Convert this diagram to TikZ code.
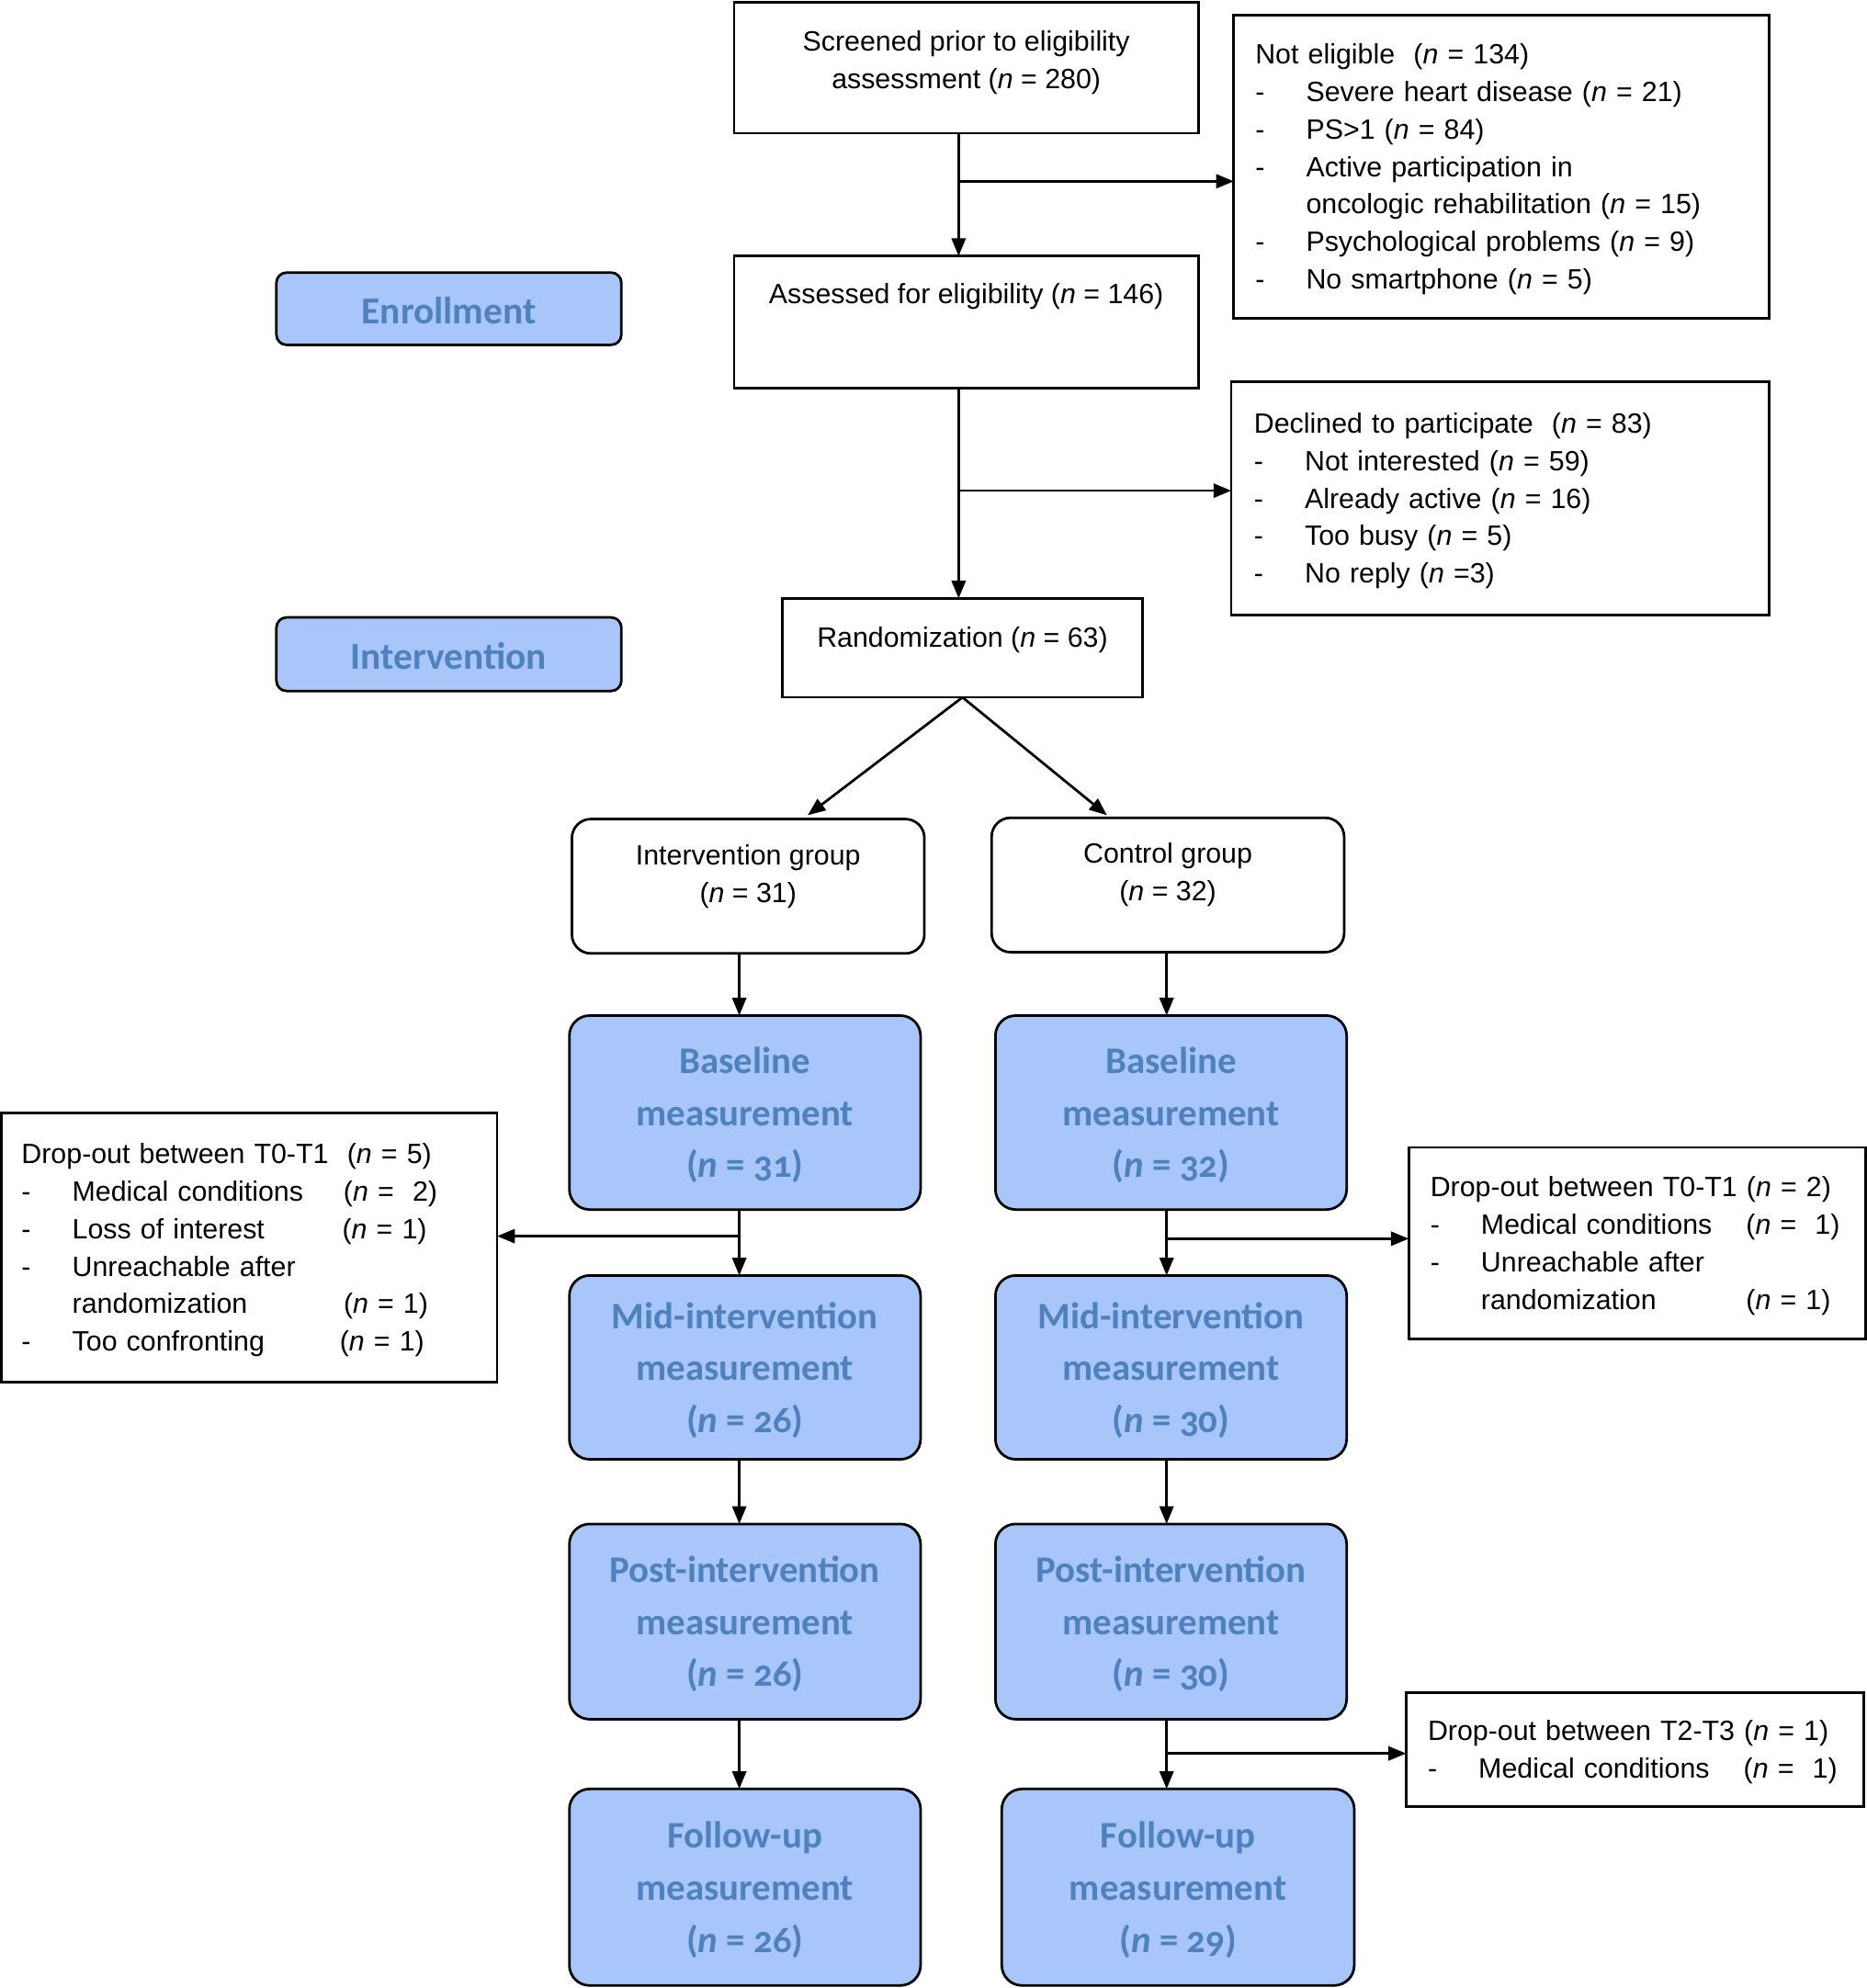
\documentclass[tikz,border=0pt]{standalone}
\usepackage{fontspec}
\setmainfont{Liberation Sans}
\newfontfamily\bluefont{Carlito}[Numbers=OldStyle]
\usetikzlibrary{arrows.meta,calc}
\definecolor{boxblue}{RGB}{168,198,250}
\definecolor{txtblue}{RGB}{79,129,189}
\newcommand\itm{\makebox[40pt][l]{-}}
\newcommand\nn{\textit{n}}
\newcommand\tstrut{\rule{0pt}{20pt}}
\newcommand\bstrut{\rule{0pt}{25pt}}
\begin{document}
\begin{tikzpicture}[x=1pt,y=-1pt,
 every node/.style={inner sep=0pt, outer sep=0pt},
 plain/.style={draw, line width=2pt, anchor=north west},
 txt/.style={align=center, font=\fontsize{22}{29.6}\selectfont},
 listbox/.style={plain, align=left, inner xsep=17pt, font=\fontsize{22}{29.6}\selectfont},
 phase/.style={draw, line width=2pt, fill=boxblue, rounded corners=8pt, text=txtblue,
   minimum width=272pt, font=\bluefont\bfseries\fontsize{30}{36}\selectfont},
 grp/.style={draw, line width=2pt, rounded corners=15pt, anchor=north west,
   minimum width=278pt, minimum height=106pt},
 meas/.style={draw, line width=2pt, fill=boxblue, rounded corners=16pt, text=txtblue,
   anchor=north west, align=center, minimum width=277pt,
   font=\bluefont\bfseries\fontsize{29.6}{41}\selectfont},
 arr/.style={line width=2pt, -{Triangle[length=14pt,width=11pt]}}]
\useasboundingbox (0,0) rectangle (1472,1568);

% enrollment part
\node[plain, minimum width=366pt, minimum height=103pt] (scr) at (579,2) {};
\node[txt] (scrT) at (762,49.5) {Screened prior to eligibility\\assessment (\nn{} = 280)};

\node[listbox, minimum width=422pt, minimum height=239pt, text width=388pt] (notel) at (973,12)
 {\tstrut Not eligible\ \ (\nn{} = 134)\\
  \itm Severe heart disease (\nn{} = 21)\\
  \itm PS>1 (\nn{} = 84)\\
  \itm Active participation in\\
  \hspace*{40pt}oncologic rehabilitation (\nn{} = 15)\\
  \itm Psychological problems (\nn{} = 9)\\
  \itm No smartphone (\nn{} = 5)};

\node[plain, minimum width=366pt, minimum height=104pt] (ass) at (579,202) {};
\node[txt] (assT) at (762,234) {Assessed for eligibility (\nn{} = 146)};

\node[listbox, inner xsep=18pt, minimum width=424pt, minimum height=184pt, text width=388pt] (decl) at (971,301)
 {\tstrut Declined to participate\ \ (\nn{} = 83)\\
  \itm Not interested (\nn{} = 59)\\
  \itm Already active (\nn{} = 16)\\
  \itm Too busy (\nn{} = 5)\\
  \itm No reply (\nn{} =3)};

\node[plain, minimum width=284pt, minimum height=78pt] (rand) at (617,472) {};
\node[txt] (randT) at (759,505) {Randomization (\nn{} = 63)};

\node[phase, minimum height=57pt] (enr) at (354,243.5) {\rule{0pt}{24pt}Enrollment};
\node[phase, minimum height=58pt] (intv) at (354,516) {\rule{0pt}{24pt}Intervention};

% groups
\node[grp] (ig) at (451,646) {};
\node[txt] (igT) at (590,691.5) {Intervention group\\(\nn{} = 31)};
\node[grp] (cg) at (782,645) {};
\node[txt] (cgT) at (921,690) {Control group\\(\nn{} = 32)};

% measurement boxes
\node[meas, minimum height=153pt] (bl) at (449,801) {\bstrut Baseline\\measurement\\(\nn{} = 31)};
\node[meas, minimum height=153pt] (br) at (785,801) {\bstrut Baseline\\measurement\\(\nn{} = 32)};
\node[meas, minimum height=145pt] (ml) at (449,1006) {\bstrut Mid-intervention\\measurement\\(\nn{} = 26)};
\node[meas, minimum height=145pt] (mr) at (785,1006) {\bstrut Mid-intervention\\measurement\\(\nn{} = 30)};
\node[meas, minimum height=154pt] (pl) at (449,1202) {\bstrut Post-intervention\\measurement\\(\nn{} = 26)};
\node[meas, minimum height=154pt] (pr) at (785,1202) {\bstrut Post-intervention\\measurement\\(\nn{} = 30)};
\node[meas, minimum height=155pt] (fl) at (449,1411) {\bstrut Follow-up\\measurement\\(\nn{} = 26)};
\node[meas, minimum height=155pt, minimum width=278pt] (fr) at (790,1411) {\bstrut Follow-up\\measurement\\(\nn{} = 29)};

% drop-out boxes
\node[listbox, inner xsep=16pt, minimum width=391pt, minimum height=212pt, text width=359pt] (dol) at (1,878)
 {\tstrut Drop-out between T0-T1\ \ (\nn{} = 5)\\
  \itm\makebox[214pt][l]{Medical conditions}(\nn{} =\ \ 2)\\
  \itm\makebox[213pt][l]{Loss of interest}(\nn{} = 1)\\
  \itm Unreachable after\\
  \hspace*{40pt}\makebox[214pt][l]{randomization}(\nn{} = 1)\\
  \itm\makebox[211pt][l]{Too confronting}(\nn{} = 1)};

\node[listbox, minimum width=360pt, minimum height=151pt, text width=326pt] (dor) at (1111,905)
 {\tstrut Drop-out between T0-T1 (\nn{} = 2)\\
  \itm\makebox[209pt][l]{Medical conditions}(\nn{} =\ \ 1)\\
  \itm Unreachable after\\
  \hspace*{40pt}\makebox[209pt][l]{randomization}(\nn{} = 1)};

\node[listbox, minimum width=361pt, minimum height=90pt, text width=327pt] (dot) at (1109,1335)
 {\tstrut Drop-out between T2-T3 (\nn{} = 1)\\
  \itm\makebox[209pt][l]{Medical conditions}(\nn{} =\ \ 1)};

% connectors
\coordinate (c1) at (756,143);
\coordinate (c2) at (756,387);
\draw[arr] (scr.south -| c1) -- (ass.north -| c1);
\draw[arr] (c1) -- (c1 -| notel.west);
\draw[arr] (ass.south -| c2) -- (rand.north -| c2);
\draw[arr] (c2) -- (c2 -| decl.west);
\draw[arr] (rand.south) -- ($(ig.north)+(47,-3)$);
\draw[arr] (rand.south) -- ($(cg.north)+(-48,-2)$);

\coordinate (xl) at (583,975);
\coordinate (xr) at (920,977);
\coordinate (xr2) at (920,1383);
\draw[arr] (ig.south -| xl) -- (bl.north -| xl);
\draw[arr] (bl.south -| xl) -- (ml.north -| xl);
\draw[arr] (xl) -- (xl -| dol.east);
\draw[arr] (ml.south -| xl) -- (pl.north -| xl);
\draw[arr] (pl.south -| xl) -- (fl.north -| xl);

\draw[arr] (cg.south -| xr) -- (br.north -| xr);
\draw[arr] (br.south -| xr) -- (mr.north -| xr);
\draw[arr] (xr) -- (xr -| dor.west);
\draw[arr] (mr.south -| xr) -- (pr.north -| xr);
\draw[arr] (pr.south -| xr) -- (fr.north -| xr);
\draw[arr] (xr2) -- (xr2 -| dot.west);
\end{tikzpicture}
\end{document}
